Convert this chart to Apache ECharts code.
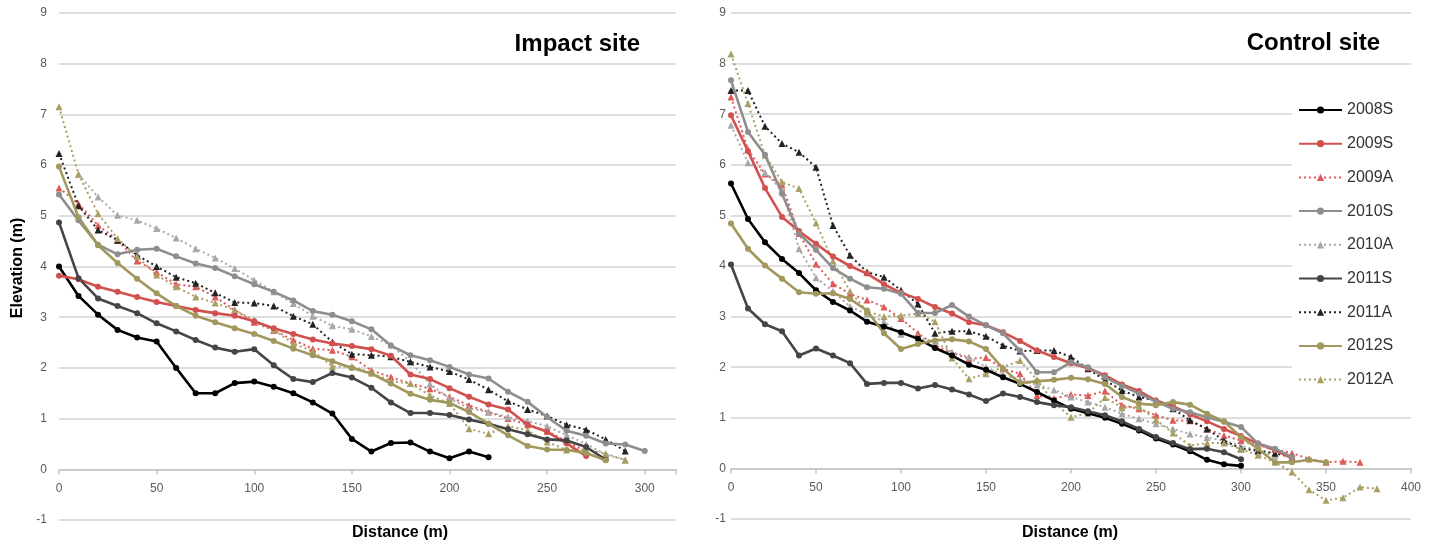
<!DOCTYPE html>
<html>
<head>
<meta charset="utf-8">
<script src="https://cdn.jsdelivr.net/npm/echarts@6/dist/echarts.min.js"></script>
<style>
html,body{margin:0;padding:0;background:#fff;}
#chart{width:1437px;height:546px;}
</style>
</head>
<body>
<div id="chart"></div>
<script>
// ---------- DATA ----------
const seriesNames = ['2008S','2009S','2009A','2010S','2010A','2011S','2011A','2012S','2012A'];
const yTicks = [-1,0,1,2,3,4,5,6,7,8,9];
const xTicksImpact = [0,50,100,150,200,250,300];
const xTicksControl = [0,50,100,150,200,250,300,350,400];

// Impact site: distance 0..300 m every 10 m
const impactDistance = [0,10,20,30,40,50,60,70,80,90,100,110,120,130,140,150,160,170,180,190,200,210,220,230,240,250,260,270,280,290,300];
const impact2008S = [4.0,3.42,3.05,2.75,2.6,2.52,2.0,1.5,1.5,1.7,1.73,1.63,1.5,1.32,1.1,0.6,0.35,0.52,0.53,0.35,0.22,0.35,0.24,null,null,null,null,null,null,null,null];
const impact2009S = [3.82,3.75,3.6,3.5,3.4,3.3,3.22,3.14,3.08,3.03,2.92,2.78,2.67,2.56,2.48,2.43,2.37,2.24,1.87,1.78,1.6,1.43,1.28,1.18,0.88,0.74,0.51,0.26,null,null,null];
const impact2009A = [5.55,5.24,4.81,4.52,4.11,3.89,3.65,3.6,3.4,3.14,2.9,2.74,2.55,2.38,2.35,2.22,1.95,1.82,1.69,1.59,1.43,1.26,1.13,1.0,0.88,0.75,0.55,0.35,null,null,null];
const impact2010S = [5.42,4.91,4.43,4.24,4.33,4.35,4.2,4.06,3.97,3.81,3.65,3.5,3.33,3.12,3.05,2.92,2.76,2.44,2.25,2.15,2.02,1.87,1.79,1.53,1.33,1.03,0.76,0.66,0.51,0.49,0.36];
const impact2010A = [null,5.82,5.37,5.01,4.91,4.75,4.56,4.35,4.17,3.96,3.73,3.5,3.27,3.02,2.83,2.76,2.62,2.45,2.12,1.68,1.4,1.2,1.13,1.03,0.95,0.85,0.67,0.5,0.29,0.19,null];
const impact2011S = [4.87,3.77,3.37,3.22,3.08,2.88,2.72,2.55,2.4,2.32,2.37,2.05,1.78,1.72,1.9,1.81,1.61,1.32,1.11,1.11,1.07,0.98,0.9,0.79,0.69,0.59,0.57,0.44,0.19,null,null];
const impact2011A = [6.23,5.2,4.72,4.52,4.22,4.0,3.79,3.67,3.48,3.29,3.28,3.22,3.02,2.86,2.51,2.27,2.25,2.22,2.12,2.02,1.93,1.77,1.57,1.34,1.18,1.05,0.88,0.78,0.59,0.36,null];
const impact2012S = [5.97,4.97,4.42,4.07,3.76,3.47,3.22,3.03,2.9,2.78,2.67,2.53,2.38,2.25,2.13,2.0,1.89,1.69,1.49,1.37,1.31,1.13,0.9,0.67,0.46,0.39,0.38,0.32,0.18,null,null];
const impact2012A = [7.15,5.82,5.04,4.55,4.2,3.83,3.6,3.4,3.28,3.14,2.94,2.75,2.48,2.33,2.03,2.03,1.9,1.74,1.69,1.46,1.3,0.8,0.7,0.85,0.77,0.54,0.38,0.39,0.31,0.18,null];

// Control site: distance 0..380 m every 10 m
const controlDistance = [0,10,20,30,40,50,60,70,80,90,100,110,120,130,140,150,160,170,180,190,200,210,220,230,240,250,260,270,280,290,300,310,320,330,340,350,360,370,380];
const control2008S = [5.63,4.93,4.47,4.14,3.86,3.52,3.29,3.12,2.9,2.8,2.69,2.56,2.38,2.23,2.05,1.95,1.8,1.67,1.51,1.34,1.18,1.09,1.0,0.88,0.75,0.59,0.47,0.34,0.17,0.08,0.05,null,null,null,null,null,null,null,null];
const control2009S = [6.98,6.27,5.54,4.97,4.69,4.44,4.19,4.0,3.85,3.64,3.47,3.35,3.19,3.06,2.89,2.83,2.69,2.52,2.33,2.2,2.08,1.98,1.84,1.66,1.53,1.34,1.23,1.07,0.93,0.78,0.64,0.49,0.36,0.2,null,null,null,null,null];
const control2009A = [7.34,6.3,5.82,5.6,4.64,4.04,3.65,3.45,3.33,3.19,2.96,2.67,2.43,2.28,2.17,2.19,1.97,1.87,1.44,1.38,1.46,1.44,1.53,1.25,1.18,1.05,0.95,0.94,0.78,0.65,0.55,0.45,0.38,0.3,0.19,0.12,0.14,0.12,null];
const control2010S = [7.67,6.65,6.2,5.43,4.64,4.32,3.96,3.75,3.58,3.55,3.45,3.07,3.07,3.23,3.0,2.83,2.67,2.33,1.9,1.9,2.1,2.0,1.8,1.63,1.48,1.32,1.18,1.11,1.01,0.92,0.82,0.49,0.39,0.22,null,null,null,null,null];
const control2010A = [6.78,6.04,5.85,5.5,4.34,3.77,3.5,3.2,3.05,2.9,2.65,2.6,2.5,2.3,2.2,2.0,1.85,1.75,1.65,1.55,1.41,1.31,1.21,1.08,0.98,0.88,0.78,0.68,0.61,0.55,0.45,0.35,0.25,null,null,null,null,null,null];
const control2011S = [4.03,3.16,2.85,2.71,2.23,2.37,2.23,2.08,1.67,1.69,1.69,1.58,1.65,1.56,1.46,1.33,1.48,1.41,1.31,1.25,1.21,1.13,1.05,0.93,0.78,0.62,0.5,0.38,0.39,0.32,0.18,null,null,null,null,null,null,null,null];
const control2011A = [7.47,7.47,6.76,6.42,6.25,5.95,4.8,4.21,3.88,3.78,3.52,3.25,2.67,2.71,2.71,2.61,2.43,2.32,2.33,2.33,2.2,1.97,1.74,1.54,1.41,1.34,1.18,0.95,0.78,0.55,0.39,0.35,0.3,0.22,null,null,null,null,null];
const control2012S = [4.84,4.34,4.01,3.75,3.48,3.45,3.46,3.35,3.12,2.67,2.36,2.46,2.53,2.55,2.51,2.36,1.97,1.69,1.72,1.75,1.79,1.76,1.67,1.41,1.28,1.25,1.31,1.26,1.08,0.93,0.62,0.39,0.12,0.12,0.17,0.12,null,null,null];
const control2012A = [8.19,7.21,6.19,5.66,5.53,4.85,4.1,3.5,3.1,3.0,3.02,3.06,2.9,2.18,1.77,1.87,2.0,2.13,1.75,1.3,1.01,1.09,1.4,1.2,1.22,0.96,0.7,0.45,0.5,0.5,0.38,0.26,0.12,-0.07,-0.42,-0.63,-0.58,-0.37,-0.4];

const impactValues = [impact2008S,impact2009S,impact2009A,impact2010S,impact2010A,impact2011S,impact2011A,impact2012S,impact2012A];
const controlValues = [control2008S,control2009S,control2009A,control2010S,control2010A,control2011S,control2011A,control2012S,control2012A];

// ---------- STYLE ----------
const styles = {
  '2008S': {color:'#000000', dotted:false},
  '2009S': {color:'#d2504d', dotted:false},
  '2009A': {color:'#dd5a58', dotted:true},
  '2010S': {color:'#8e8e8e', dotted:false},
  '2010A': {color:'#a8a8a8', dotted:true},
  '2011S': {color:'#454545', dotted:false},
  '2011A': {color:'#222222', dotted:true},
  '2012S': {color:'#a0985c', dotted:false},
  '2012A': {color:'#aaa066', dotted:true}
};
const FONT = '"Liberation Sans", Arial, sans-serif';

function pairs(dist, vals){
  const out = [];
  dist.forEach((d,i)=>{ if(vals[i]!==null && vals[i]!==undefined) out.push([d, vals[i]]); });
  return out;
}
function makeSeries(name, data, idx){
  const s = styles[name];
  return {
    name: name, type: 'line', xAxisIndex: idx, yAxisIndex: idx,
    data: data,
    symbol: s.dotted ? 'triangle' : 'circle',
    symbolSize: s.dotted ? 7 : 6,
    showSymbol: true,
    lineStyle: {color: s.color, width: s.dotted ? 2 : 2.6, type: s.dotted ? [2,3] : 'solid'},
    itemStyle: {color: s.color},
    emphasis: {disabled: true},
    z: s.dotted ? 2 : 3
  };
}

const series = [];
seriesNames.forEach((n,i)=> series.push(makeSeries(n, pairs(impactDistance, impactValues[i]), 0)));
seriesNames.forEach((n,i)=> series.push(makeSeries(n, pairs(controlDistance, controlValues[i]), 1)));

function xAxis(idx, ticks){
  return {
    type:'value', gridIndex: idx, min: ticks[0], max: idx===0 ? 316 : ticks[ticks.length-1], interval: 50,
    axisLine:{show:true, onZero:true, lineStyle:{color:'#c4c4c4', width:1.5}},
    axisTick:{show:true, length:5, lineStyle:{color:'#c4c4c4', width:1.5}},
    axisLabel:{color:'#595959', fontSize:12, fontFamily:FONT, margin:-37,
      formatter: v => ticks.indexOf(v) >= 0 ? String(v) : ''},
    splitLine:{show:false}
  };
}
function yAxis(idx, margin){
  return {
    type:'value', gridIndex: idx, min: yTicks[0], max: yTicks[yTicks.length-1], interval: 1,
    axisLine:{show:false}, axisTick:{show:false},
    axisLabel:{color:'#595959', fontSize:12, fontFamily:FONT, margin: margin},
    splitLine:{show:true, lineStyle:{color:'#d3d3d3', width:1.5}}
  };
}

const chart = echarts.init(document.getElementById('chart'), null, {renderer:'canvas'});
chart.setOption({
  animation:false,
  backgroundColor:'#ffffff',
  grid:[
    {left:59, right:761, top:13, bottom:26},
    {left:731, right:26, top:13, bottom:27}
  ],
  xAxis:[xAxis(0, xTicksImpact), xAxis(1, xTicksControl)],
  yAxis:[yAxis(0, 12), yAxis(1, 5)],
  legend:{
    data: seriesNames, orient:'vertical', left:1292, top:100,
    backgroundColor:'#ffffff', padding:[2,22,8,6],
    itemWidth:43, itemHeight:9, itemGap:17.7,
    textStyle:{color:'#333333', fontSize:16, fontFamily:FONT},
    selectedMode:false
  },
  graphic:[
    {type:'text', x:640, y:44, style:{text:'Impact site', font:'bold 24px '+FONT, fill:'#000', align:'right', verticalAlign:'middle'}},
    {type:'text', x:1380, y:43, style:{text:'Control site', font:'bold 24px '+FONT, fill:'#000', align:'right', verticalAlign:'middle'}},
    {type:'text', x:400, y:533, style:{text:'Distance (m)', font:'bold 16px '+FONT, fill:'#000', align:'center', verticalAlign:'middle'}},
    {type:'text', x:1070, y:533, style:{text:'Distance (m)', font:'bold 16px '+FONT, fill:'#000', align:'center', verticalAlign:'middle'}},
    {type:'text', x:18, y:268, rotation:Math.PI/2, style:{text:'Elevation (m)', font:'bold 16px '+FONT, fill:'#000', align:'center', verticalAlign:'middle'}}
  ],
  series: series
});
</script>
</body>
</html>
